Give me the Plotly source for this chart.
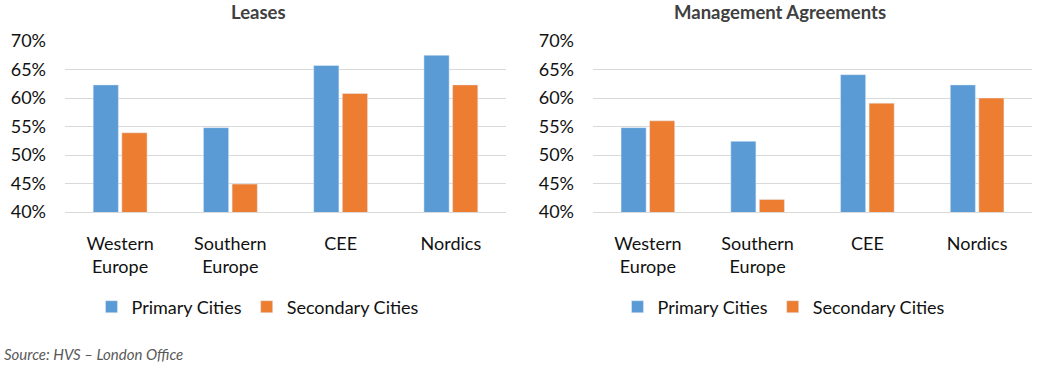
import plotly.graph_objects as go

categories = ["Western<br>Europe", "Southern<br>Europe", "CEE", "Nordics"]
leases_primary = [0.623, 0.548, 0.657, 0.675]
leases_secondary = [0.539, 0.449, 0.608, 0.623]
mgmt_primary = [0.548, 0.524, 0.641, 0.623]
mgmt_secondary = [0.560, 0.422, 0.591, 0.600]
series_names = ["Primary Cities", "Secondary Cities"]
titles = ["Leases", "Management Agreements"]
source = "Source: HVS – London Office"

BLUE = "#5B9BD5"
ORANGE = "#ED7D31"
FONT = "Lato"

fig = go.Figure()
fig.add_trace(go.Bar(x=categories, y=leases_primary, name=series_names[0], marker_color=BLUE,
                     xaxis="x", yaxis="y", legend="legend"))
fig.add_trace(go.Bar(x=categories, y=leases_secondary, name=series_names[1], marker_color=ORANGE,
                     xaxis="x", yaxis="y", legend="legend"))
fig.add_trace(go.Bar(x=categories, y=mgmt_primary, name=series_names[0], marker_color=BLUE,
                     xaxis="x2", yaxis="y2", legend="legend2"))
fig.add_trace(go.Bar(x=categories, y=mgmt_secondary, name=series_names[1], marker_color=ORANGE,
                     xaxis="x2", yaxis="y2", legend="legend2"))

W, H = 1046, 366
ytop = 1 - 41 / H
ybot = 1 - 212 / H

yax = dict(range=[0.40, 0.70], dtick=0.05, tickformat=".0%", showgrid=True, gridcolor="#D9D9D9",
           gridwidth=1, zeroline=False, showline=False, ticks="", ticklabelstandoff=18,
           automargin=False,
           tickfont=dict(family=FONT, size=18, color="#111111"), domain=[ybot, ytop])
xax = dict(showgrid=False, showline=True, linecolor="#D9D9D9", linewidth=1, ticks="",
           automargin=False,
           ticklabelstandoff=15, tickfont=dict(family=FONT, size=18, color="#111111"))

legend_common = dict(orientation="h", xanchor="center", yanchor="middle", y=1 - 307 / H,
                     font=dict(family=FONT, size=18, color="#111111"), bgcolor="rgba(0,0,0,0)",
                     itemwidth=30, tracegroupgap=0)

fig.update_layout(
    width=W, height=H, margin=dict(l=0, r=0, t=0, b=0, pad=0, autoexpand=False),
    paper_bgcolor="white", plot_bgcolor="white",
    barmode="group", bargap=0.48, bargroupgap=0.12,
    xaxis=dict(domain=[65 / W, 506 / W], anchor="y", **xax),
    yaxis=dict(anchor="x", **yax),
    xaxis2=dict(domain=[593 / W, 1032 / W], anchor="y2", **xax),
    yaxis2=dict(anchor="x2", **yax),
    legend=dict(x=258 / W, **legend_common),
    legend2=dict(x=784 / W, **legend_common),
    annotations=[
        dict(text="<b>" + titles[0] + "</b>", x=258 / W, y=1 - 12 / H, xref="paper", yref="paper",
             xanchor="center", yanchor="middle",
             showarrow=False, font=dict(family=FONT, size=18.5, color="#404040")),
        dict(text="<b>" + titles[1] + "</b>", x=780 / W, y=1 - 12 / H, xref="paper", yref="paper",
             xanchor="center", yanchor="middle",
             showarrow=False, font=dict(family=FONT, size=18.5, color="#404040")),
        dict(text="<i>" + source + "</i>", x=2 / W, y=1 - 354 / H, xref="paper", yref="paper",
             xanchor="left", yanchor="middle",
             showarrow=False, font=dict(family=FONT, size=15, color="#595959")),
    ],
)

fig.write_html("out.html", config={"displayModeBar": False},
               post_script="document.body.style.margin='0';")
